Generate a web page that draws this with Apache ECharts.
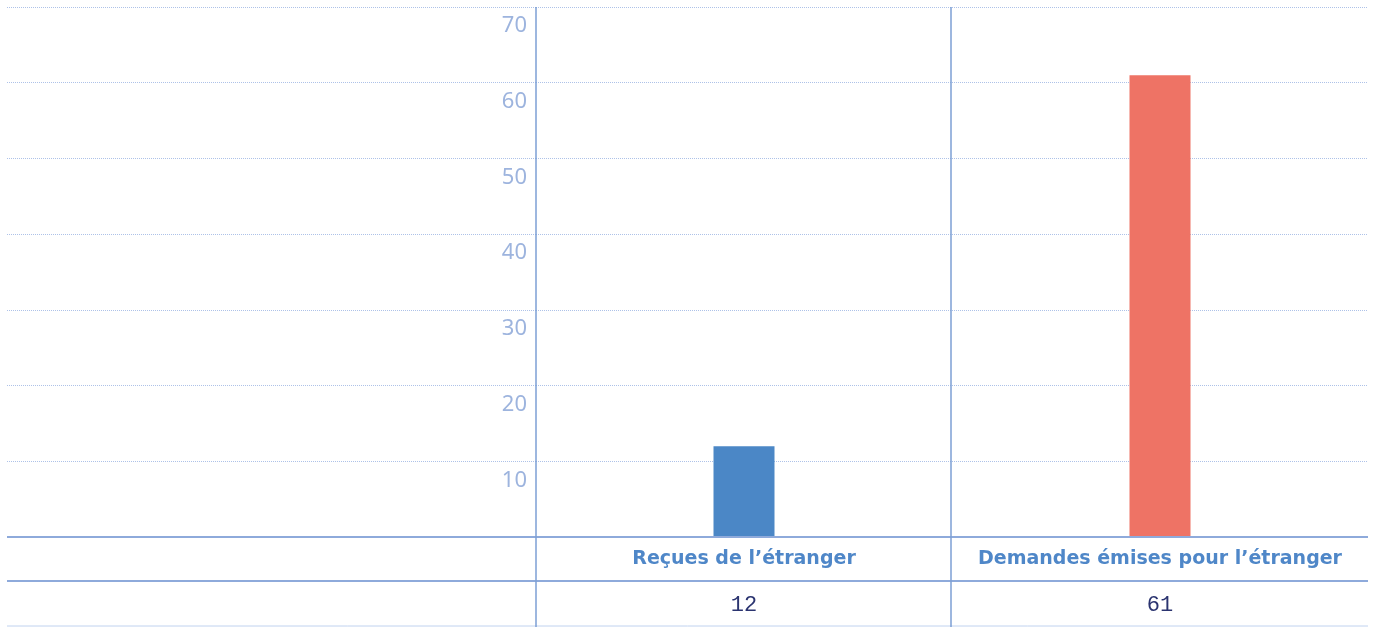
<!DOCTYPE html>
<html>
<head>
<meta charset="utf-8">
<script src="https://cdn.jsdelivr.net/npm/echarts@6/dist/echarts.min.js"></script>
<style>
  html, body { margin: 0; padding: 0; background: #fff; }
  #chart { width: 1376px; height: 627px; }
</style>
</head>
<body>
<div id="chart"></div>
<script>
var categories = ['Reçues de l\u2019étranger', 'Demandes émises pour l\u2019étranger'];
var values = [12, 61];
var barColors = ['#4b87c6', '#ee7365'];
var yMin = 0, yMax = 70, yStep = 10;

// layout of the table-like frame
var LEFT = 7, RIGHT_EDGE = 1368, AXIS_X = 536;
var TOP = 7, BASE_Y = 537, ROW2_Y = 581, BOTTOM_Y = 626;
var MID_X = 951;

function draw_chart() {
    var dom = document.getElementById('chart');
    var myChart = echarts.init(dom, null, { renderer: 'canvas' });

    var dotted = { lineStyle: { color: '#aec2e8', type: 'dotted', width: 1 } };
    var ruleColor = '#8eaadb';

    var option = {
      animation: false,
      grid: [
        { left: AXIS_X, right: 1376 - RIGHT_EDGE, top: TOP, bottom: 627 - BASE_Y },
        { left: LEFT, width: AXIS_X - LEFT, top: TOP, bottom: 627 - BASE_Y }
      ],
      xAxis: [
        {
          type: 'category', gridIndex: 0, data: categories,
          axisLine: { show: false }, axisTick: { show: false },
          axisLabel: {
            margin: 22, verticalAlign: 'middle', interval: 0,
            color: '#4f87c8', fontFamily: 'DejaVu Sans', fontWeight: 'bold', fontSize: 19
          }
        },
        {
          type: 'category', gridIndex: 0, position: 'bottom', offset: ROW2_Y - BASE_Y,
          data: values.map(String),
          axisLine: { show: false }, axisTick: { show: false },
          axisLabel: {
            margin: 24, verticalAlign: 'middle', interval: 0,
            color: '#2b3470', fontFamily: 'Liberation Mono', fontSize: 22
          }
        },
        { type: 'category', gridIndex: 1, data: [''], show: false }
      ],
      yAxis: [
        {
          type: 'value', gridIndex: 0, min: yMin, max: yMax, interval: yStep,
          axisLine: { show: false }, axisTick: { show: false },
          axisLabel: {
            margin: 9, verticalAlign: 'top', padding: [8, 0, 0, 0],
            color: '#9db4de', fontFamily: 'Noto Sans', fontSize: 22,
            formatter: function (v) { return v === 0 ? '' : v; }
          },
          splitLine: dotted
        },
        {
          type: 'value', gridIndex: 1, min: yMin, max: yMax, interval: yStep,
          axisLine: { show: false }, axisTick: { show: false },
          axisLabel: { show: false },
          splitLine: dotted
        }
      ],
      series: [
        {
          type: 'bar', xAxisIndex: 0, yAxisIndex: 0, barWidth: 61,
          data: values.map(function (v, i) {
            return { value: v, itemStyle: { color: barColors[i] } };
          })
        }
      ],
      graphic: [
        { type: 'line', z: 100, shape: { x1: LEFT, y1: BASE_Y, x2: RIGHT_EDGE, y2: BASE_Y },
          style: { stroke: ruleColor, lineWidth: 2 } },
        { type: 'line', z: 100, shape: { x1: LEFT, y1: ROW2_Y, x2: RIGHT_EDGE, y2: ROW2_Y },
          style: { stroke: ruleColor, lineWidth: 2 } },
        { type: 'line', z: 100, shape: { x1: LEFT, y1: BOTTOM_Y, x2: RIGHT_EDGE, y2: BOTTOM_Y },
          style: { stroke: '#c0d2ef', lineWidth: 1 } },
        { type: 'line', z: 100, shape: { x1: AXIS_X, y1: TOP, x2: AXIS_X, y2: 627 },
          style: { stroke: '#7c9fd5', lineWidth: 1.5 } },
        { type: 'line', z: 100, shape: { x1: MID_X, y1: TOP, x2: MID_X, y2: 627 },
          style: { stroke: '#7c9fd5', lineWidth: 1.5 } }
      ]
    };

    myChart.setOption(option);
    window.addEventListener('resize', myChart.resize);
}
draw_chart();
</script>
</body>
</html>
